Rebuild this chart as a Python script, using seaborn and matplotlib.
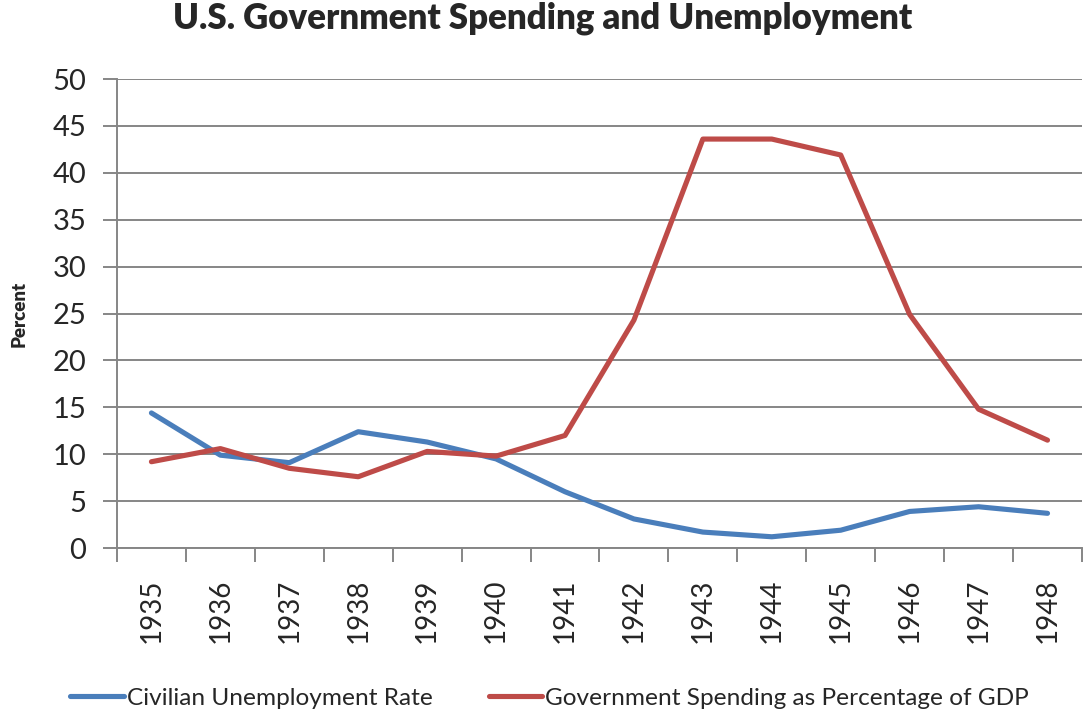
import matplotlib
matplotlib.use("Agg")
import matplotlib.pyplot as plt
import seaborn as sns
import pandas as pd
from matplotlib.ticker import FixedLocator, MultipleLocator

years = [1935, 1936, 1937, 1938, 1939, 1940, 1941, 1942, 1943, 1944, 1945, 1946, 1947, 1948]
unemployment = [14.4, 9.9, 9.1, 12.4, 11.3, 9.5, 6.0, 3.1, 1.7, 1.2, 1.9, 3.9, 4.4, 3.7]
gov_spending = [9.2, 10.6, 8.5, 7.6, 10.3, 9.8, 12.0, 24.3, 43.6, 43.6, 41.9, 24.9, 14.8, 11.5]
series_names = ["Civilian Unemployment Rate", "Government Spending as Percentage of GDP"]
colors = ["#4A7EBB", "#BE4B48"]

df = pd.DataFrame({
    "year": years * 2,
    "value": unemployment + gov_spending,
    "series": [series_names[0]] * len(years) + [series_names[1]] * len(years),
})

sns.set_theme(style="white")
plt.rcParams["font.family"] = ["Lato", "DejaVu Sans"]

fig = plt.figure(figsize=(10.86, 7.12), dpi=100)
ax = fig.add_axes([0.1077, 0.2303, 0.8886, 0.6587])

sns.lineplot(data=df, x="year", y="value", hue="series", palette=colors,
             linewidth=3.7, ax=ax, legend=False, zorder=3)

grid_color = "#868686"
ax.set_xlim(years[0] - 0.5, years[-1] + 0.5)
ax.set_ylim(0, 50)
ax.yaxis.set_major_locator(MultipleLocator(5))
ax.grid(axis="y", color=grid_color, linewidth=1.4)
ax.set_axisbelow(True)

# category labels at band centres, tick marks on band boundaries
ax.set_xticks(years)
ax.set_xticklabels([str(y) for y in years], rotation=90, fontsize=20)
ax.xaxis.set_minor_locator(FixedLocator([y - 0.5 for y in years] + [years[-1] + 0.5]))
ax.tick_params(axis="x", which="major", length=0, pad=22)
ax.tick_params(axis="x", which="minor", length=10, width=1.4, color=grid_color, direction="out")
ax.tick_params(axis="y", which="major", length=10, width=1.4, color=grid_color,
               direction="out", labelsize=21, pad=12)
ax.tick_params(bottom=True, left=True, which="both")

for side in ["top", "right"]:
    ax.spines[side].set_visible(False)
for side in ["left", "bottom"]:
    ax.spines[side].set_color(grid_color)
    ax.spines[side].set_linewidth(1.4)

ax.set_xlabel("")
ax.set_ylabel("Percent", fontsize=13.5, fontweight="heavy", labelpad=18)

fig.suptitle("U.S. Government Spending and Unemployment", x=0.5, y=0.998,
             fontsize=25, fontweight="heavy")

handles = [plt.Line2D([], [], color=c, linewidth=3.7) for c in colors]
fig.legend(handles, series_names, loc="lower center", bbox_to_anchor=(0.506, -0.026),
           ncol=2, frameon=False, fontsize=17.6, handlelength=2.2, handletextpad=0.1,
           columnspacing=2.3)

fig.savefig("out.png", dpi=100)
